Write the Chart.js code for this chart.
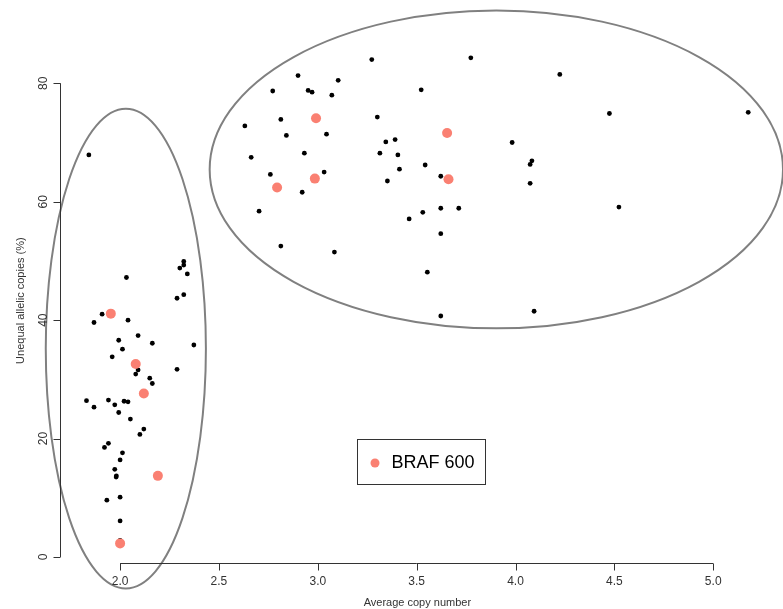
<!DOCTYPE html>
<html>

<head>
  <meta charset="utf-8">
  <title>Average copy number vs unequal allelic copies</title>
  <script src="https://cdn.jsdelivr.net/npm/chart.js@4.4.1/dist/chart.umd.min.js"></script>
  <style>
    html,
    body {
      margin: 0;
      padding: 0;
      background: #fff;
    }

    canvas {
      display: block;
    }
  </style>
</head>

<body>
  <canvas id="chartJSContainer" width="783" height="609"></canvas>
  <script>
    // all samples (black)
    var copyNumber = [
      1.842, 2.322, 2.322, 2.302, 2.340, 2.032, 2.322, 2.288, 1.909, 1.868,
      2.040, 2.091, 1.993, 2.163, 2.373, 2.012, 1.960, 2.091, 2.288, 2.079,
      2.150, 2.163, 1.830, 1.941, 1.868, 1.973, 2.020, 2.040, 1.993, 2.052,
      2.120, 2.100, 1.941, 1.921, 2.012, 2.000, 1.973, 1.981, 1.980, 1.933,
      2.000, 2.000, 2.000,
      3.273, 2.900, 3.103, 2.772, 2.951, 2.971, 3.071, 3.301, 2.813, 2.631,
      3.044, 2.841, 3.344, 3.391, 3.314, 3.405, 2.932, 2.663, 3.413, 3.032,
      2.760, 3.352, 2.921, 2.703, 3.462, 2.813, 3.084, 3.774, 4.224, 3.523,
      3.983, 3.543, 4.083, 4.074, 3.622, 4.074, 3.622, 3.713, 3.531, 3.622,
      3.554, 3.622, 4.094, 4.475, 5.177, 4.523
    ];
    var allelicPct = [
      67.9, 49.9, 49.3, 48.8, 47.8, 47.2, 44.3, 43.7, 41.0, 39.6,
      40.0, 37.4, 36.6, 36.1, 35.8, 35.1, 33.8, 31.6, 31.7, 30.9,
      30.2, 29.3, 26.4, 26.5, 25.3, 25.7, 26.3, 26.2, 24.4, 23.3,
      21.6, 20.7, 19.2, 18.5, 17.6, 16.4, 14.8, 13.7, 13.5, 9.6,
      10.1, 6.1, 2.8,
      84.0, 81.3, 80.5, 78.7, 78.8, 78.5, 78.0, 74.3, 73.9, 72.8,
      71.4, 71.2, 70.1, 70.5, 68.2, 67.9, 68.2, 67.5, 65.5, 65.0,
      64.6, 63.5, 61.6, 58.4, 57.1, 52.5, 51.5, 84.3, 81.5, 78.9,
      70.0, 66.2, 66.9, 66.3, 64.3, 63.1, 58.9, 58.9, 58.2, 54.6,
      48.1, 40.7, 41.5, 74.9, 75.1, 59.1
    ];

    // BRAF 600 samples (salmon)
    var brafCopyNumber = [1.953, 2.079, 2.120, 2.191, 2.000, 2.991, 2.985, 2.794, 3.654, 3.661];
    var brafAllelicPct = [41.1, 32.6, 27.6, 13.7, 2.3, 74.1, 63.9, 62.4, 71.6, 63.8];

    var xTicks = [2.0, 2.5, 3.0, 3.5, 4.0, 4.5, 5.0];
    var yTicks = [0, 20, 40, 60, 80];

    // group outlines: centre x, centre y, half width, half height (data units)
    var groupCx = [2.029, 3.903];
    var groupCy = [35.2, 65.46];
    var groupRx = [0.405, 1.450];
    var groupRy = [40.5, 26.84];

    var legendLabel = 'BRAF 600';
    var legendAt = { x: 3.2, y: 20 };

    function toPoints(xs, ys) {
      return xs.map(function(x, i) { return { x: x, y: ys[i] }; });
    }

    var font = '"Liberation Sans", Arial, sans-serif';

    var rAxes = {
      id: 'rAxes',
      afterDatasetsDraw: function(chart) {
        var ctx = chart.ctx;
        var sx = chart.scales.x, sy = chart.scales.y;
        var area = chart.chartArea;

        ctx.save();
        // ellipses
        ctx.strokeStyle = '#808080';
        ctx.lineWidth = 2;
        for (var i = 0; i < groupCx.length; i++) {
          var cx = sx.getPixelForValue(groupCx[i]);
          var cy = sy.getPixelForValue(groupCy[i]);
          var rx = sx.getPixelForValue(groupCx[i] + groupRx[i]) - cx;
          var ry = cy - sy.getPixelForValue(groupCy[i] + groupRy[i]);
          ctx.beginPath();
          ctx.ellipse(cx, cy, rx, ry, 0, 0, Math.PI * 2);
          ctx.stroke();
        }

        // x axis
        ctx.strokeStyle = '#333';
        ctx.lineWidth = 1;
        ctx.fillStyle = '#333';
        var yb = Math.round(area.bottom) + 0.5;
        ctx.beginPath();
        ctx.moveTo(sx.getPixelForValue(xTicks[0]), yb);
        ctx.lineTo(sx.getPixelForValue(xTicks[xTicks.length - 1]), yb);
        xTicks.forEach(function(t) {
          var px = Math.round(sx.getPixelForValue(t)) + 0.5;
          ctx.moveTo(px, yb);
          ctx.lineTo(px, yb + 7);
        });
        ctx.stroke();
        ctx.font = '12px ' + font;
        ctx.textAlign = 'center';
        ctx.textBaseline = 'middle';
        xTicks.forEach(function(t) {
          ctx.fillText(t.toFixed(1), sx.getPixelForValue(t), yb + 18);
        });

        // y axis
        var xl = Math.round(area.left) + 0.5;
        ctx.beginPath();
        ctx.moveTo(xl, sy.getPixelForValue(yTicks[0]));
        ctx.lineTo(xl, sy.getPixelForValue(yTicks[yTicks.length - 1]));
        yTicks.forEach(function(t) {
          var py = Math.round(sy.getPixelForValue(t)) + 0.5;
          ctx.moveTo(xl, py);
          ctx.lineTo(xl - 7, py);
        });
        ctx.stroke();
        yTicks.forEach(function(t) {
          ctx.save();
          ctx.translate(xl - 17, sy.getPixelForValue(t));
          ctx.rotate(-Math.PI / 2);
          ctx.fillText(String(t), 0, 0);
          ctx.restore();
        });

        // axis titles
        ctx.font = '11px ' + font;
        ctx.fillText('Average copy number', (area.left + area.right) / 2, 603);
        ctx.save();
        ctx.translate(21, (area.top + area.bottom) / 2);
        ctx.rotate(-Math.PI / 2);
        ctx.fillText('Unequal allelic copies (%)', 0, 0);
        ctx.restore();

        // legend box
        var lx = Math.round(sx.getPixelForValue(legendAt.x)) + 0.5;
        var ly = Math.round(sy.getPixelForValue(legendAt.y)) + 0.5;
        ctx.strokeStyle = '#333';
        ctx.strokeRect(lx, ly, 128, 45);
        ctx.fillStyle = '#FA8072';
        ctx.beginPath();
        ctx.arc(lx + 17.5, ly + 23.5, 4.5, 0, Math.PI * 2);
        ctx.fill();
        ctx.fillStyle = '#000';
        ctx.font = '18px ' + font;
        ctx.textAlign = 'left';
        ctx.fillText(legendLabel, lx + 34, ly + 24);
        ctx.restore();
      }
    };

    var options = {
      type: 'scatter',
      data: {
        datasets: [{
          label: legendLabel,
          data: toPoints(brafCopyNumber, brafAllelicPct),
          backgroundColor: '#FA8072',
          borderWidth: 0,
          pointRadius: 5,
          order: 0
        }, {
          label: 'all',
          data: toPoints(copyNumber, allelicPct),
          backgroundColor: '#000',
          borderWidth: 0,
          pointRadius: 2.4,
          order: 1
        }]
      },
      options: {
        responsive: false,
        animation: false,
        layout: {
          padding: { left: 60, right: 8.3, top: 38.4, bottom: 46.2 }
        },
        plugins: {
          legend: { display: false },
          tooltip: { enabled: false }
        },
        scales: {
          x: { type: 'linear', min: 1.696, max: 5.311, display: false },
          y: { type: 'linear', min: -0.98, max: 87.58, display: false }
        }
      },
      plugins: [rAxes]
    };

    var ctx = document.getElementById('chartJSContainer').getContext('2d');
    window.test = new Chart(ctx, options);
  </script>
</body>

</html>
